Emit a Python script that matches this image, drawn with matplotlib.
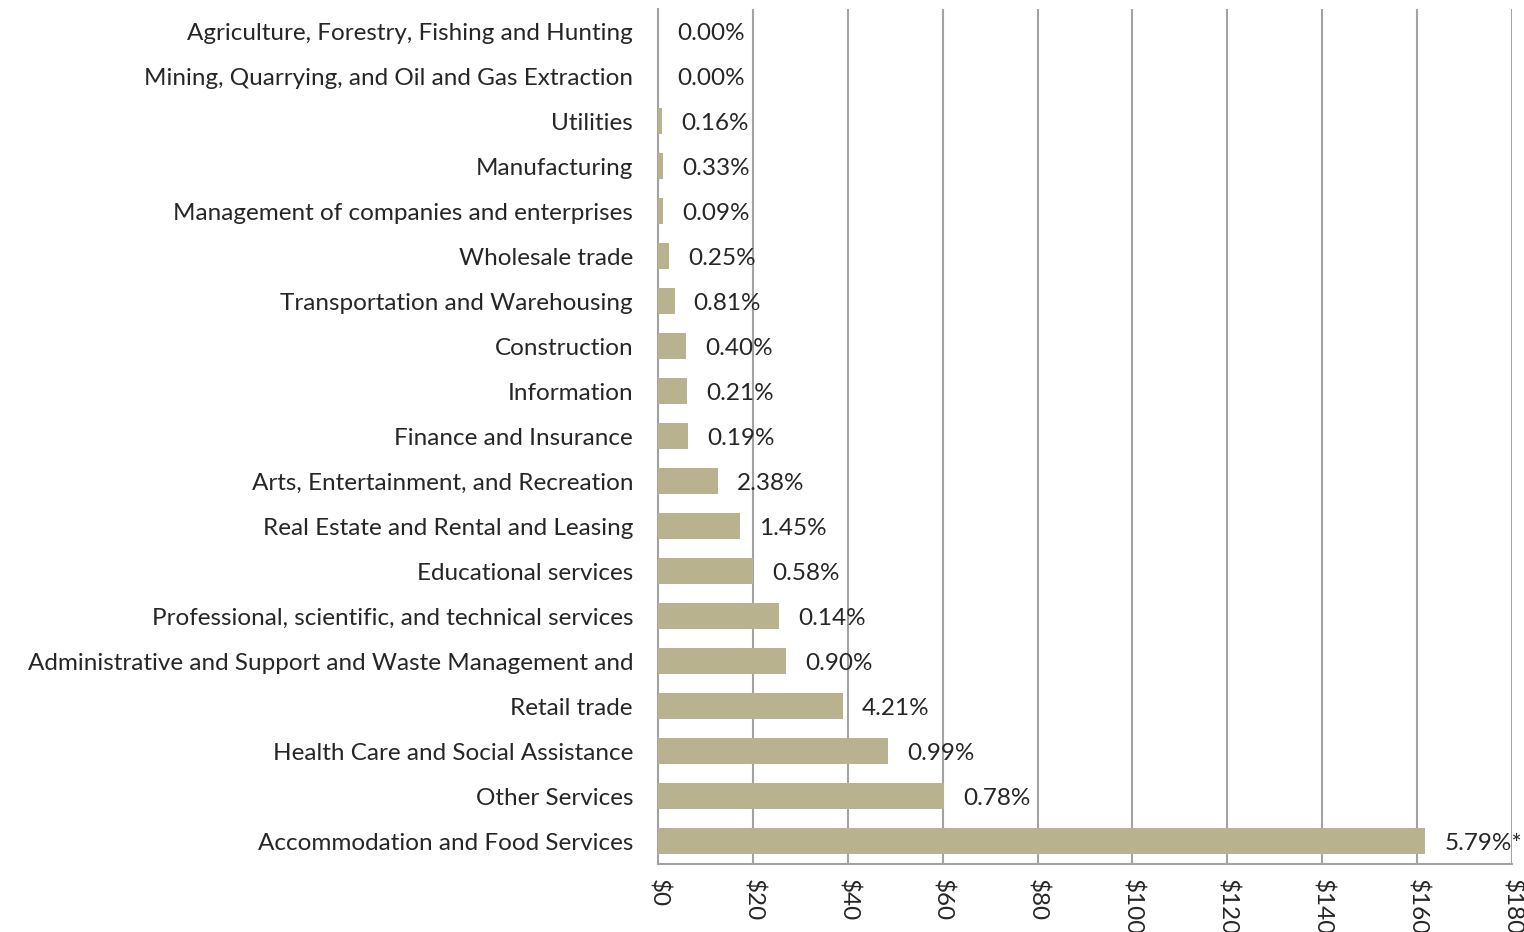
import matplotlib
matplotlib.use("Agg")
from matplotlib import pyplot as plt
from matplotlib import ticker as ticker

# Data (top to bottom as shown)
industries = [
    "Agriculture, Forestry, Fishing and Hunting",
    "Mining, Quarrying, and Oil and Gas Extraction",
    "Utilities",
    "Manufacturing",
    "Management of companies and enterprises",
    "Wholesale trade",
    "Transportation and Warehousing",
    "Construction",
    "Information",
    "Finance and Insurance",
    "Arts, Entertainment, and Recreation",
    "Real Estate and Rental and Leasing",
    "Educational services",
    "Professional, scientific, and technical services",
    "Administrative and Support and Waste Management and",
    "Retail trade",
    "Health Care and Social Assistance",
    "Other Services",
    "Accommodation and Food Services",
]
amounts = [0.0, 0.0, 0.8, 1.0, 1.0, 2.3, 3.5, 5.9, 6.1, 6.3,
           12.6, 17.3, 20.0, 25.5, 27.0, 39.0, 48.5, 60.3, 161.7]
pct_labels = ["0.00%", "0.00%", "0.16%", "0.33%", "0.09%", "0.25%", "0.81%",
              "0.40%", "0.21%", "0.19%", "2.38%", "1.45%", "0.58%", "0.14%",
              "0.90%", "4.21%", "0.99%", "0.78%", "5.79%*"]
xticks = [0, 20, 40, 60, 80, 100, 120, 140, 160, 180]

BAR_COLOR = "#B8B28F"
GRID_COLOR = "#A3A3A3"
TEXT_COLOR = "#262626"
FONT = ["Lato", "DejaVu Sans"]
FS = 17.5

fig = plt.figure(figsize=(15.24, 9.32), dpi=100)
ax = fig.add_axes([658 / 1524, 1 - 863.5 / 932, (1512 - 658) / 1524, (863.5 - 8.5) / 932])

ypos = list(range(len(industries)))
ax.barh(ypos, amounts, height=0.58, color=BAR_COLOR, zorder=3)

for y, v, lab in zip(ypos, amounts, pct_labels):
    ax.annotate(lab, (v, y), xytext=(13.7, 0), textcoords="offset points",
                va="center_baseline", ha="left", fontsize=FS, color=TEXT_COLOR,
                family=FONT, annotation_clip=False, zorder=4)

ax.set_ylim(len(industries) - 0.5, -0.5)
ax.set_xlim(0, 180)
ax.set_yticks(ypos)
ax.set_yticklabels(industries, family=FONT, fontsize=FS, color=TEXT_COLOR)
for t in ax.get_yticklabels():
    t.set_va("center_baseline")
ax.set_xticks(xticks)
ax.xaxis.set_major_formatter(ticker.FuncFormatter(lambda v, p: f"${v:.0f}"))
for t in ax.get_xticklabels():
    t.set_rotation(-90)
    t.set_family(FONT)
    t.set_fontsize(FS)
    t.set_color(TEXT_COLOR)
    t.set_va("top")
    t.set_ha("center")

ax.tick_params(axis="y", length=0, pad=18)
ax.tick_params(axis="x", length=0, pad=11)
ax.grid(axis="x", color=GRID_COLOR, linewidth=1.5, zorder=1)
for side in ["top", "right"]:
    ax.spines[side].set_visible(False)
for side in ["left", "bottom"]:
    ax.spines[side].set_color(GRID_COLOR)
    ax.spines[side].set_linewidth(1.5)

fig.savefig("out.png", dpi=100)
